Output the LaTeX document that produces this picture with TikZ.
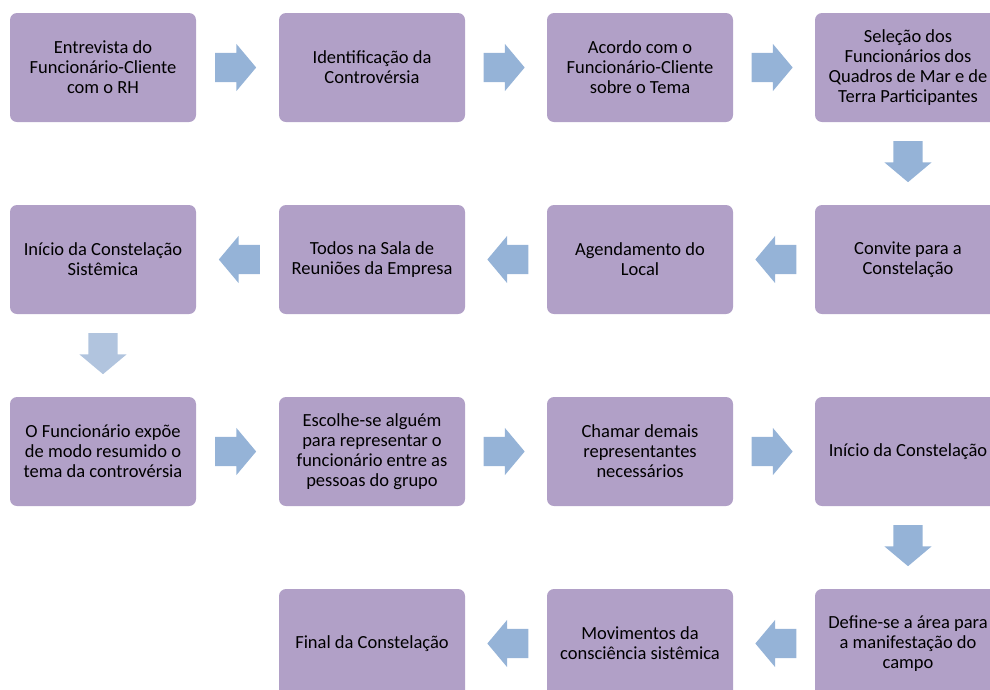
\documentclass[tikz,border=0pt]{standalone}
\usepackage{fontspec}
\setmainfont{Carlito}
\usepackage{tikz}
\usetikzlibrary{positioning,calc,shapes.arrows}
\definecolor{boxlilac}{RGB}{177,160,199}
\definecolor{arrowblue}{RGB}{149,179,215}
\definecolor{arrowpale}{RGB}{177,196,222}

\tikzset{
  stepbox/.style={rectangle,rounded corners=7pt,fill=boxlilac,minimum width=186pt,
    minimum height=109pt,align=center,inner sep=2pt,font=\fontsize{18.5}{20}\selectfont},
  flowarrow/.style={single arrow,fill=arrowblue,draw=none,inner sep=0pt,
    text height=14.5pt,text depth=14.5pt,text width=0pt,
    minimum height=41pt,single arrow head extend=9pt,
    single arrow tip angle=100,rotate=#1,xshift=-8pt},
  flowarrow/.default=0,
}

\begin{document}
\begin{tikzpicture}[x=1pt,y=-1pt]
\useasboundingbox (0,0) rectangle (990,689);
\clip (0,0) rectangle (990,689);

% first row
\node[stepbox] (entrevista) at (103,67.5) {Entrevista do\\Funcionário-Cliente\\com o RH};
\node[stepbox] (identificacao) at (372,67.5) {Identificação da\\Controvérsia};
\node[stepbox] (acordo) at (640,67.5) {Acordo com o\\Funcionário-Cliente\\sobre o Tema};
\node[stepbox] (selecao) at (908,67.5) {Seleção dos\\Funcionários dos\\Quadros de Mar e de\\Terra Participantes};

% second row
\node[stepbox] (convite) at (908,259.5) {Convite para a\\Constelação};
\node[stepbox] (agendamento) at (640,259.5) {Agendamento do\\Local};
\node[stepbox] (sala) at (372,259.5) {Todos na Sala de\\Reuniões da Empresa};
\node[stepbox] (inicio) at (103,259.5) {Início da Constelação\\Sistêmica};

% third row
\node[stepbox] (expoe) at (103,451.5) {O Funcionário expõe\\de modo resumido o\\tema da controvérsia};
\node[stepbox] (escolhe) at (372,451.5) {Escolhe-se alguém\\para representar o\\funcionário entre as\\pessoas do grupo};
\node[stepbox] (chamar) at (640,451.5) {Chamar demais\\representantes\\necessários};
\node[stepbox] (constelacao) at (908,451.5) {Início da Constelação};

% fourth row
\node[stepbox] (define) at (908,643.5) {Define-se a área para\\a manifestação do\\campo};
\node[stepbox] (movimentos) at (640,643.5) {Movimentos da\\consciência sistêmica};
\node[stepbox] (final) at (372,643.5) {Final da Constelação};

% arrows
\node[flowarrow] (a1) at ($(entrevista.east)!0.5!(identificacao.west)$) {};
\node[flowarrow] (a2) at ($(identificacao.east)!0.5!(acordo.west)$) {};
\node[flowarrow] (a3) at ($(acordo.east)!0.5!(selecao.west)$) {};
\node[flowarrow=-90] (a4) at ($(selecao.south)!0.5!(convite.north)$) {};
\node[flowarrow=180] (a5) at ($(convite.west)!0.5!(agendamento.east)$) {};
\node[flowarrow=180] (a6) at ($(agendamento.west)!0.5!(sala.east)$) {};
\node[flowarrow=180] (a7) at ($(sala.west)!0.5!(inicio.east)$) {};
\node[flowarrow=-90,fill=arrowpale] (a8) at ($(inicio.south)!0.5!(expoe.north)$) {};
\node[flowarrow] (a9) at ($(expoe.east)!0.5!(escolhe.west)$) {};
\node[flowarrow] (a10) at ($(escolhe.east)!0.5!(chamar.west)$) {};
\node[flowarrow] (a11) at ($(chamar.east)!0.5!(constelacao.west)$) {};
\node[flowarrow=-90] (a12) at ($(constelacao.south)!0.5!(define.north)$) {};
\node[flowarrow=180] (a13) at ($(define.west)!0.5!(movimentos.east)$) {};
\node[flowarrow=180] (a14) at ($(movimentos.west)!0.5!(final.east)$) {};
\end{tikzpicture}
\end{document}
